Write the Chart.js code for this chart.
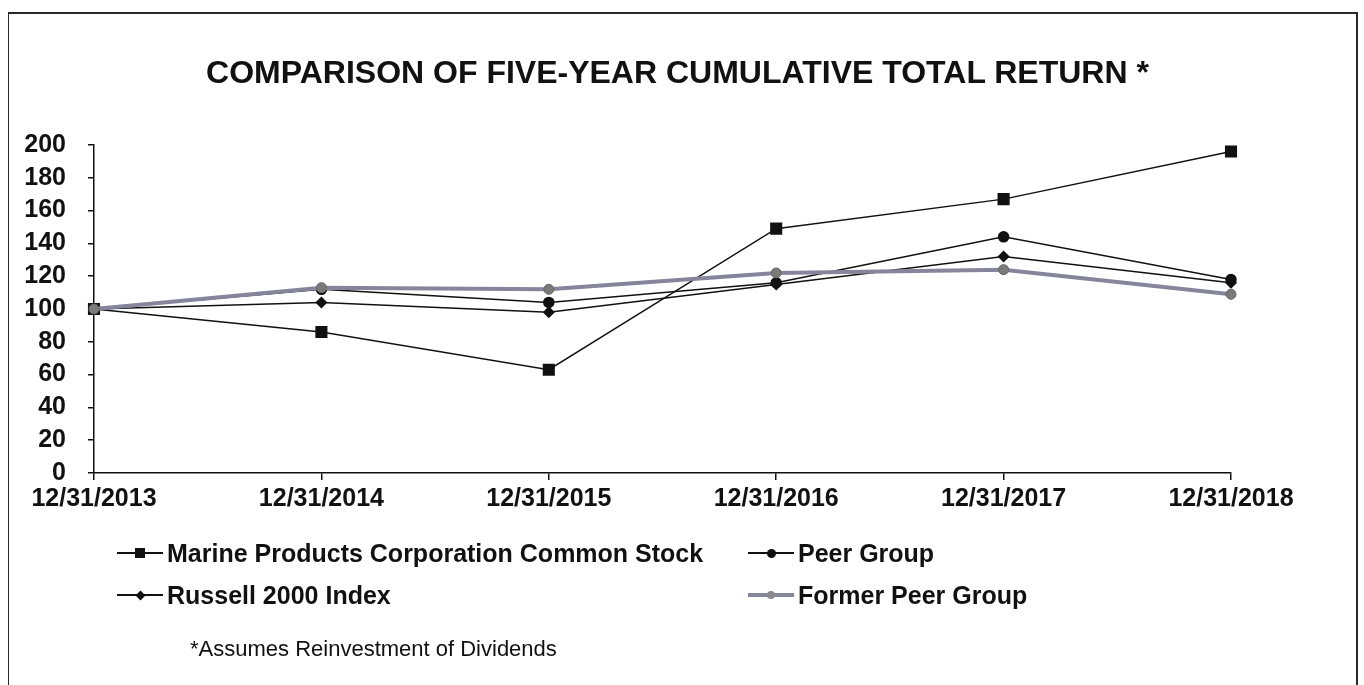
<!DOCTYPE html>
<html>
<head>
<meta charset="utf-8">
<script src="https://cdn.jsdelivr.net/npm/chart.js@4"></script>
<style>
  body { margin: 0; background: #fff; font-family: "Liberation Sans", Arial, sans-serif; }
  .wrap { position: relative; width: 1364px; height: 685px; overflow: hidden; }
  .frame { position: absolute; left: 8px; top: 12px; width: 1350px; height: 700px; border: 2px solid #2a2a2a; border-left-width: 1.5px; box-sizing: border-box; }
  canvas { position: absolute; left: 0; top: 0; }
  .title { position: absolute; left: 0; width: 1355px; top: 54px; text-align: center; font-weight: bold; font-size: 32px; color: #111; }
  .leg { position: absolute; font-weight: bold; font-size: 25px; color: #111; line-height: 30px; }
  .sample { position: absolute; width: 46px; height: 0; border-top: 2px solid #111; }
  .mk { position: absolute; background: #111; }
  .note { position: absolute; left: 190px; top: 636px; font-size: 22px; color: #111; }
</style>
</head>
<body>
<div class="wrap">
  <div class="frame"></div>
  <canvas id="chart" width="1364" height="685"></canvas>
  <div class="title">COMPARISON OF FIVE-YEAR CUMULATIVE TOTAL RETURN *</div>
  <div id="legend"></div>
  <div class="note">*Assumes Reinvestment of Dividends</div>
</div>
<script>
const labels = ['12/31/2013', '12/31/2014', '12/31/2015', '12/31/2016', '12/31/2017', '12/31/2018'];
const marineValues = [100, 86, 63, 149, 167, 196];
const peerValues = [100, 112, 104, 116, 144, 118];
const russellValues = [100, 104, 98, 115, 132, 116];
const formerValues = [100, 113, 112, 122, 124, 109];
const seriesNames = ['Marine Products Corporation Common Stock', 'Peer Group', 'Russell 2000 Index', 'Former Peer Group'];
const yTicks = [0, 20, 40, 60, 80, 100, 120, 140, 160, 180, 200];

const FORMER_COLOR = '#85859c';

const ctx = document.getElementById('chart').getContext('2d');
new Chart(ctx, {
  type: 'line',
  data: {
    labels: labels,
    datasets: [
      {
        label: seriesNames[0],
        data: marineValues,
        borderColor: '#111',
        backgroundColor: '#111',
        borderWidth: 1.5,
        pointStyle: 'rect',
        pointRadius: 7.5,
        tension: 0,
        order: 2
      },
      {
        label: seriesNames[1],
        data: peerValues,
        borderColor: '#111',
        backgroundColor: '#111',
        borderWidth: 1.5,
        pointStyle: 'circle',
        pointRadius: 5,
        tension: 0,
        order: 2
      },
      {
        label: seriesNames[2],
        data: russellValues,
        borderColor: '#111',
        backgroundColor: '#111',
        borderWidth: 1.5,
        pointStyle: 'rectRot',
        pointRadius: 5,
        tension: 0,
        order: 2
      },
      {
        label: seriesNames[3],
        data: formerValues,
        borderColor: FORMER_COLOR,
        backgroundColor: '#7a7a7a',
        borderWidth: 4,
        pointStyle: 'circle',
        pointRadius: 5,
        pointBorderWidth: 1,
        pointBorderColor: '#666',
        tension: 0,
        order: 0
      }
    ]
  },
  options: {
    responsive: false,
    animation: false,
    layout: {
      padding: { left: 0, top: 145, right: 133, bottom: 172 }
    },
    plugins: {
      legend: { display: false },
      title: { display: false },
      tooltip: { enabled: false }
    },
    scales: {
      x: {
        offset: false,
        afterFit: (scale) => { scale.height = 40; },
        grid: {
          drawOnChartArea: false,
          drawTicks: true,
          tickLength: 7,
          color: '#111',
          lineWidth: 1.5
        },
        border: { display: true, color: '#111', width: 1.5 },
        ticks: {
          color: '#111',
          padding: 4,
          maxRotation: 0,
          autoSkip: false,
          font: { family: 'Liberation Sans', size: 25, weight: 'bold' }
        }
      },
      y: {
        min: 0,
        max: 200,
        afterFit: (scale) => { scale.width = 94; },
        afterBuildTicks: (scale) => { scale.ticks = yTicks.map(v => ({ value: v })); },
        grid: {
          drawOnChartArea: false,
          drawTicks: true,
          tickLength: 6,
          color: '#111',
          lineWidth: 1.5
        },
        border: { display: true, color: '#111', width: 1.5 },
        ticks: {
          color: '#111',
          padding: 22,
          autoSkip: false,
          font: { family: 'Liberation Sans', size: 25, weight: 'bold', lineHeight: 1 }
        }
      }
    }
  }
});

// legend built as html, two columns like the original
const legendItems = [
  { name: seriesNames[0], x: 117, y: 553, marker: 'square' },
  { name: seriesNames[1], x: 748, y: 553, marker: 'circle' },
  { name: seriesNames[2], x: 117, y: 595, marker: 'diamond' },
  { name: seriesNames[3], x: 748, y: 595, marker: 'gray' }
];
const legendEl = document.getElementById('legend');
legendItems.forEach(item => {
  const line = document.createElement('div');
  line.className = 'sample';
  line.style.left = item.x + 'px';
  line.style.top = (item.y - 1) + 'px';
  if (item.marker === 'gray') {
    line.style.borderTop = '4px solid ' + FORMER_COLOR;
    line.style.top = (item.y - 2) + 'px';
  }
  legendEl.appendChild(line);

  const mk = document.createElement('div');
  mk.className = 'mk';
  const cx = item.x + 23;
  if (item.marker === 'square') {
    mk.style.width = '10px'; mk.style.height = '10px';
    mk.style.left = (cx - 5) + 'px'; mk.style.top = (item.y - 5) + 'px';
  } else if (item.marker === 'circle') {
    mk.style.width = '9px'; mk.style.height = '9px'; mk.style.borderRadius = '50%';
    mk.style.left = (cx - 4.5) + 'px'; mk.style.top = (item.y - 4.5) + 'px';
  } else if (item.marker === 'diamond') {
    mk.style.width = '7px'; mk.style.height = '7px'; mk.style.transform = 'rotate(45deg)';
    mk.style.left = (cx - 3.5) + 'px'; mk.style.top = (item.y - 3.5) + 'px';
  } else {
    mk.style.width = '8px'; mk.style.height = '8px'; mk.style.borderRadius = '50%';
    mk.style.background = '#8a8a8a';
    mk.style.left = (cx - 4) + 'px'; mk.style.top = (item.y - 4) + 'px';
  }
  legendEl.appendChild(mk);

  const txt = document.createElement('div');
  txt.className = 'leg';
  txt.textContent = item.name;
  txt.style.left = (item.x + 50) + 'px';
  txt.style.top = (item.y - 15) + 'px';
  legendEl.appendChild(txt);
});
</script>
</body>
</html>
